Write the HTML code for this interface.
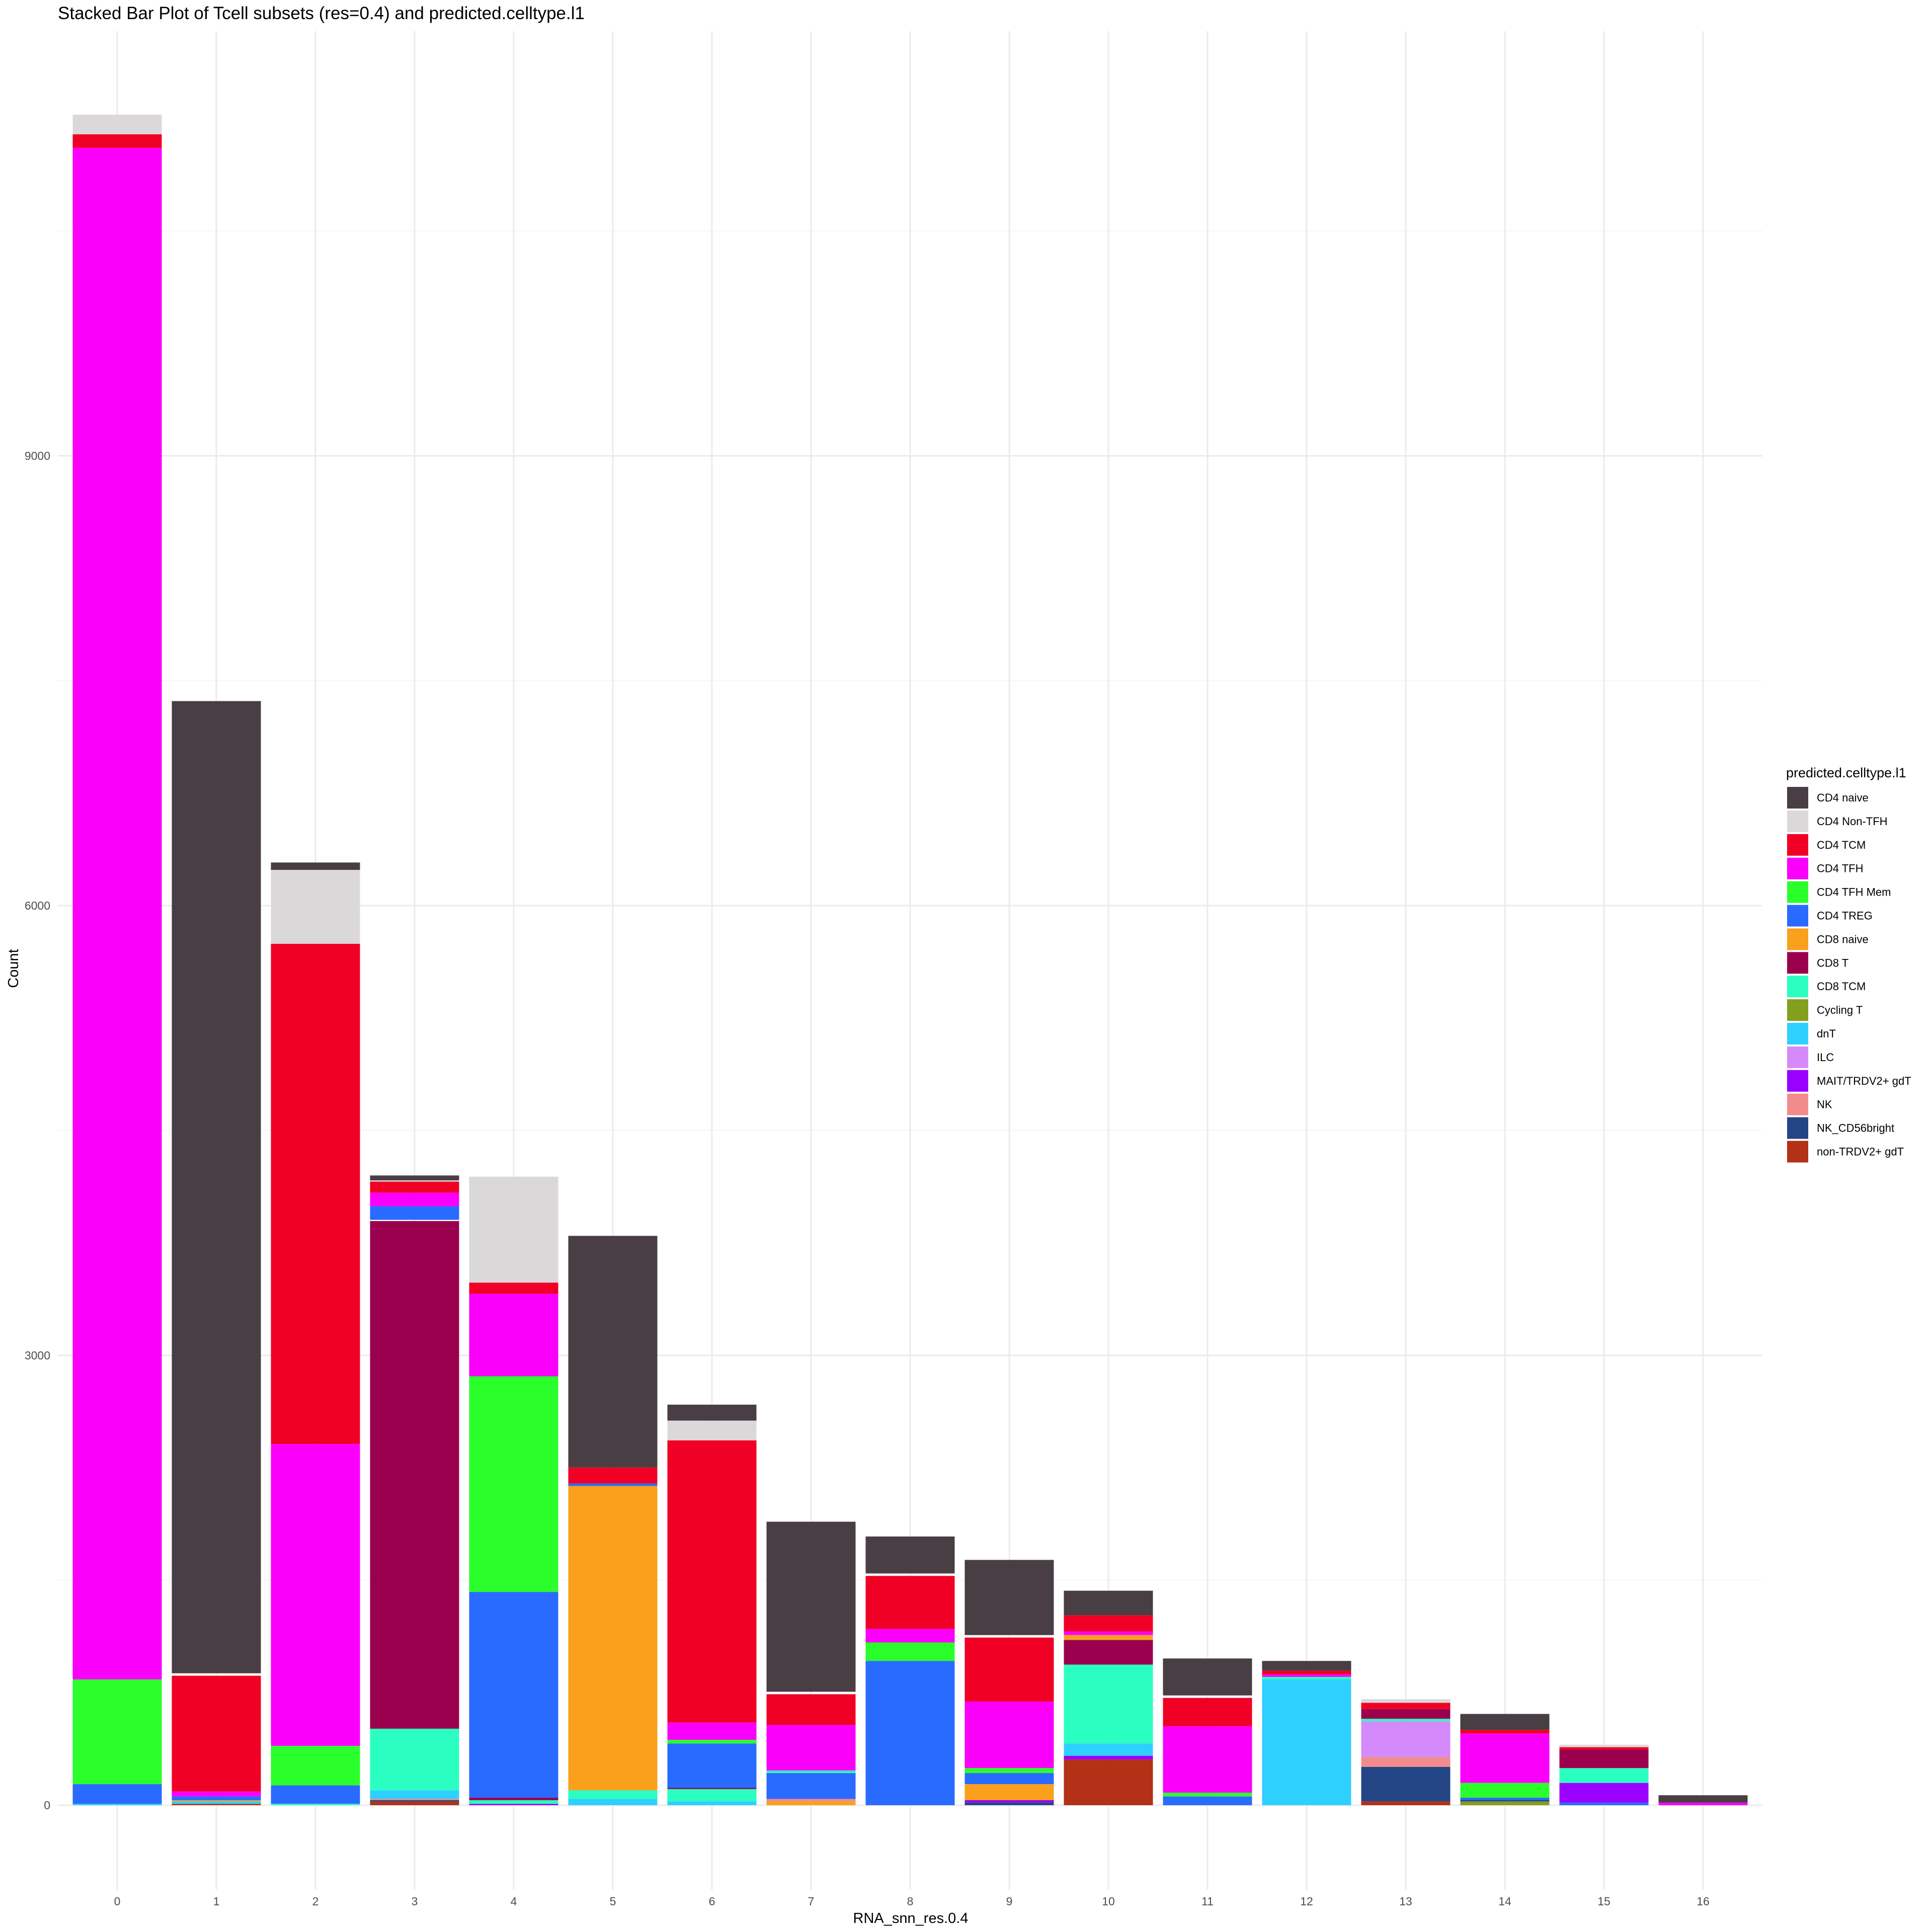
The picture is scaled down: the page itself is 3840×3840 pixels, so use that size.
<!DOCTYPE html>
<html><head><meta charset="utf-8"><style>
html,body{margin:0;padding:0;background:#fff;}
svg{display:block;}
text{font-family:"Liberation Sans",sans-serif;}
</style></head><body>
<svg id="s" width="3840" height="3840" xmlns="http://www.w3.org/2000/svg">
<rect width="3840" height="3840" fill="#fff"/>
<g id="grid"></g>
<g id="bars"></g>
<g id="labels"></g>
<text x="115" y="38" font-size="35" fill="#000">Stacked Bar Plot of Tcell subsets (res=0.4) and predicted.celltype.l1</text>
<text x="1810" y="3822" font-size="29" text-anchor="middle" fill="#000">RNA_snn_res.0.4</text>
<text transform="translate(36,1925) rotate(-90)" font-size="29" text-anchor="middle" fill="#000">Count</text>
<g id="legend"></g>
</svg>
<script>
var C={naive:"#483E43",nontfh:"#DBD8D9",tcm:"#F00025",tfh:"#FA00FA",tfhm:"#2BFF2B",treg:"#2A6BFF",cd8n:"#FAA01C",cd8t:"#9B004F",cd8tcm:"#2AFFC1",cyc:"#849E1D",dnt:"#2ED0FF",ilc:"#D48AFA",mait:"#9A00FF",nk:"#F28B8C",nkb:"#244585",gdt:"#B23117"};
var k=2.449;
var data=[
[["nontfh",93,109],["tcm",109,120],["tfh",120,1363],["tfhm",1363,1448],["treg",1448,1464],["dnt",1464,1465]],
[["naive",569,1358],["tcm",1360,1454],["tfh",1454,1458],["treg",1458,1461],["cd8n",1461,1462],["dnt",1462,1464],["gdt",1464,1465]],
[["naive",700,706],["nontfh",706,766],["tcm",766,1172],["tfh",1172,1417],["tfhm",1417,1449],["treg",1449,1464],["cd8tcm",1464,1465]],
[["naive",954,958],["nontfh",958,959],["tcm",959,968],["tfh",968,979],["treg",979,990],["cd8t",991,1403],["cd8tcm",1403,1453],["dnt",1453,1460],["nk",1460,1461],["nkb",1461,1462],["gdt",1462,1465]],
[["nontfh",955,1041],["tcm",1041,1050],["tfh",1050,1117],["tfhm",1117,1292],["treg",1292,1459],["cd8t",1459,1461],["cd8tcm",1461,1464],["mait",1464,1465]],
[["naive",1003,1191],["tcm",1191,1204],["treg",1204,1206],["cd8n",1206,1453],["cd8tcm",1453,1460],["dnt",1460,1465]],
[["naive",1140,1153],["nontfh",1153,1169],["tcm",1169,1398],["tfh",1398,1412],["tfhm",1412,1415],["treg",1415,1451],["cd8t",1451,1452],["cd8tcm",1452,1462],["dnt",1462,1465]],
[["naive",1235,1373],["tcm",1375,1400],["tfh",1400,1437],["cd8tcm",1437,1439],["treg",1439,1460],["nk",1460,1462],["cd8n",1462,1465]],
[["naive",1247,1277],["tcm",1279,1322],["tfh",1322,1333],["tfhm",1333,1348],["treg",1348,1465]],
[["naive",1266,1327],["tcm",1329,1381],["tfh",1381,1435],["tfhm",1435,1439],["treg",1439,1448],["cd8n",1448,1461],["mait",1461,1463],["nkb",1463,1465]],
[["naive",1291,1311],["tcm",1311,1324],["tfh",1324,1327],["cd8n",1327,1331],["cd8t",1331,1351],["cd8tcm",1351,1415],["dnt",1415,1425],["mait",1425,1428],["gdt",1428,1465]],
[["naive",1346,1376],["tcm",1378,1401],["tfh",1401,1455],["tfhm",1455,1458],["treg",1458,1465]],
[["naive",1348,1356],["tcm",1356,1359],["tfh",1359,1361],["cd8tcm",1361,1363],["dnt",1363,1465]],
[["nontfh",1379,1382],["tcm",1382,1387],["cd8t",1387,1395],["cd8tcm",1395,1397],["ilc",1397,1426],["nk",1426,1434],["nkb",1434,1462],["gdt",1462,1465]],
[["naive",1391,1404],["tcm",1404,1407],["tfh",1407,1447],["tfhm",1447,1459],["treg",1459,1461],["nkb",1461,1462],["cyc",1462,1465]],
[["nontfh",1416,1418],["tcm",1418,1420],["cd8t",1420,1435],["cd8tcm",1435,1447],["mait",1447,1463],["treg",1463,1465]],
[["naive",1457,1463],["tfh",1463,1465]]
];
var ns="http://www.w3.org/2000/svg";
function el(p,t,a,txt){var e=document.createElementNS(ns,t);for(var q in a)e.setAttribute(q,a[q]);if(txt!==undefined)e.textContent=txt;document.getElementById(p).appendChild(e);}
var y0=3588,ppc=894/3000,L=115,R=3503,T=62,B=3756;
[1500,4500,7500,10500].forEach(function(v){var y=y0-v*ppc;el("grid","line",{x1:L,x2:R,y1:y,y2:y,stroke:"#f3f3f3","stroke-width":1.5});});
[0,3000,6000,9000].forEach(function(v){var y=y0-v*ppc;el("grid","line",{x1:L,x2:R,y1:y,y2:y,stroke:"#ebebeb","stroke-width":3});el("labels","text",{x:100,y:y+8,"font-size":23,"text-anchor":"end",fill:"#4d4d4d"},String(v));});
for(var i=0;i<17;i++){var cx=233+197*i;el("grid","line",{x1:cx,x2:cx,y1:T,y2:B,stroke:"#ebebeb","stroke-width":3});el("labels","text",{x:cx,y:3787,"font-size":23,"text-anchor":"middle",fill:"#4d4d4d"},String(i));
data[i].forEach(function(s){var yt=s[1]*k,yb=s[2]*k;if(s[2]>=1465)yb=y0;el("bars","rect",{x:cx-88.5,y:yt,width:177,height:Math.max(yb-yt,1.5),fill:C[s[0]]});});}
var leg=[["naive","CD4 naive"],["nontfh","CD4 Non-TFH"],["tcm","CD4 TCM"],["tfh","CD4 TFH"],["tfhm","CD4 TFH Mem"],["treg","CD4 TREG"],["cd8n","CD8 naive"],["cd8t","CD8 T"],["cd8tcm","CD8 TCM"],["cyc","Cycling T"],["dnt","dnT"],["ilc","ILC"],["mait","MAIT/TRDV2+ gdT"],["nk","NK"],["nkb","NK_CD56bright"],["gdt","non-TRDV2+ gdT"]];
el("legend","text",{x:3550,y:1545,"font-size":27,fill:"#000"},"predicted.celltype.l1");
leg.forEach(function(l,j){var y=1564+j*46.9;el("legend","rect",{x:3552,y:y,width:42,height:43,fill:C[l[0]]});el("legend","text",{x:3611,y:y+29,"font-size":22,fill:"#000"},l[1]);});
</script>
</body></html>
